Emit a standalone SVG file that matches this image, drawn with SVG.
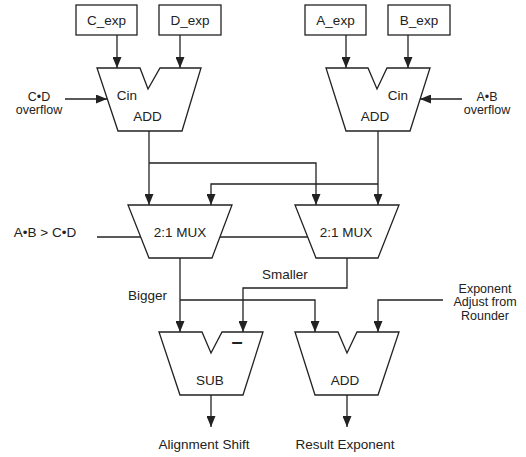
<svg xmlns="http://www.w3.org/2000/svg" width="526" height="457" viewBox="0 0 526 457">
<defs>
<style>
.ln{fill:none;stroke:#222;stroke-width:1.3}
.blk{fill:#fff;stroke:#222;stroke-width:1.3;stroke-linejoin:miter}
.t{font-family:"Liberation Sans",Arial,sans-serif;font-size:13.5px;fill:#222;text-anchor:middle}
.s{font-size:12.5px}
</style>
<marker id="ah" viewBox="0 0 11 9" refX="11" refY="4.5" markerWidth="11" markerHeight="9" markerUnits="userSpaceOnUse" orient="auto">
<path d="M0,0 L11,4.5 L0,9 Z" fill="#222"/>
</marker>
</defs>
<rect width="526" height="457" fill="#fff"/>
<g id="connectors">
<path class="ln" d="M117,35 V68" marker-end="url(#ah)"/>
<path class="ln" d="M180,35 V68" marker-end="url(#ah)"/>
<path class="ln" d="M346,35 V68" marker-end="url(#ah)"/>
<path class="ln" d="M408,35 V68" marker-end="url(#ah)"/>
<path class="ln" d="M65,99 H107" marker-end="url(#ah)"/>
<path class="ln" d="M462,99 H420" marker-end="url(#ah)"/>
<path class="ln" d="M149,131 V205" marker-end="url(#ah)"/>
<path class="ln" d="M149,163 H316 V205" marker-end="url(#ah)"/>
<path class="ln" d="M378,131 V205" marker-end="url(#ah)"/>
<path class="ln" d="M378,184 H211 V205" marker-end="url(#ah)"/>
<path class="ln" d="M97,237 H308"/>
<path class="ln" d="M180,258 V332" marker-end="url(#ah)"/>
<path class="ln" d="M180,300 H315 V332" marker-end="url(#ah)"/>
<path class="ln" d="M347,258 V288 H243 V332" marker-end="url(#ah)"/>
<path class="ln" d="M443,300 H378 V332" marker-end="url(#ah)"/>
<path class="ln" d="M211,395 V427" marker-end="url(#ah)"/>
<path class="ln" d="M347,395 V427" marker-end="url(#ah)"/>
</g>
<g id="c_exp"><rect class="blk" x="76" y="5" width="61" height="30"/><text class="t" x="106.5" y="25">C_exp</text></g>
<g id="d_exp"><rect class="blk" x="159" y="5" width="62" height="30"/><text class="t" x="190" y="25">D_exp</text></g>
<g id="a_exp"><rect class="blk" x="305" y="5" width="61" height="30"/><text class="t" x="335.5" y="25">A_exp</text></g>
<g id="b_exp"><rect class="blk" x="388" y="5" width="62" height="30"/><text class="t" x="419" y="25">B_exp</text></g>
<g id="add_cd"><path class="blk" d="M97,68 H140 L148,89 L160,68 H201 L182,131 H118 Z"/><text class="t" x="127" y="100">Cin</text><text class="t" x="147.5" y="121">ADD</text></g>
<g id="add_ab"><path class="blk" d="M326,68 H368 L377,89 L387,68 H430 L410,131 H346 Z"/><text class="t" x="398" y="100">Cin</text><text class="t" x="375" y="121">ADD</text></g>
<g id="cd_overflow"><text class="t s" x="39" y="100.5">C•D</text><text class="t s" x="39" y="114">overflow</text></g>
<g id="ab_overflow"><text class="t s" x="487" y="100.5">A•B</text><text class="t s" x="487" y="114">overflow</text></g>
<g id="mux1"><path class="blk" d="M128,205 H232 L212,258 H149 Z"/><text class="t" x="180" y="237">2:1 MUX</text></g>
<g id="mux2"><path class="blk" d="M295,205 H399 L378,258 H316 Z"/><text class="t" x="346" y="237">2:1 MUX</text></g>
<g id="sel"><text class="t" x="45" y="237">A•B &gt; C•D</text></g>
<g id="bigger"><text class="t" x="147.5" y="300">Bigger</text></g>
<g id="smaller"><text class="t" x="285" y="279">Smaller</text></g>
<g id="exp_adj"><text class="t s" x="485" y="292.5">Exponent</text><text class="t s" x="485" y="306">Adjust from</text><text class="t s" x="485" y="319.5">Rounder</text></g>
<g id="sub"><path class="blk" d="M159,332 H202 L211,353 L222,332 H263 L243,395 H180 Z"/><text class="t" x="237" y="348" style="font-size:20px;font-weight:bold">–</text><text class="t" x="210" y="385">SUB</text></g>
<g id="add_res"><path class="blk" d="M295,332 H338 L347,353 L357,332 H399 L378,395 H315 Z"/><text class="t" x="345" y="385">ADD</text></g>
<g id="align"><text class="t" x="204" y="449">Alignment Shift</text></g>
<g id="result"><text class="t" x="345" y="449">Result Exponent</text></g>
</svg>
